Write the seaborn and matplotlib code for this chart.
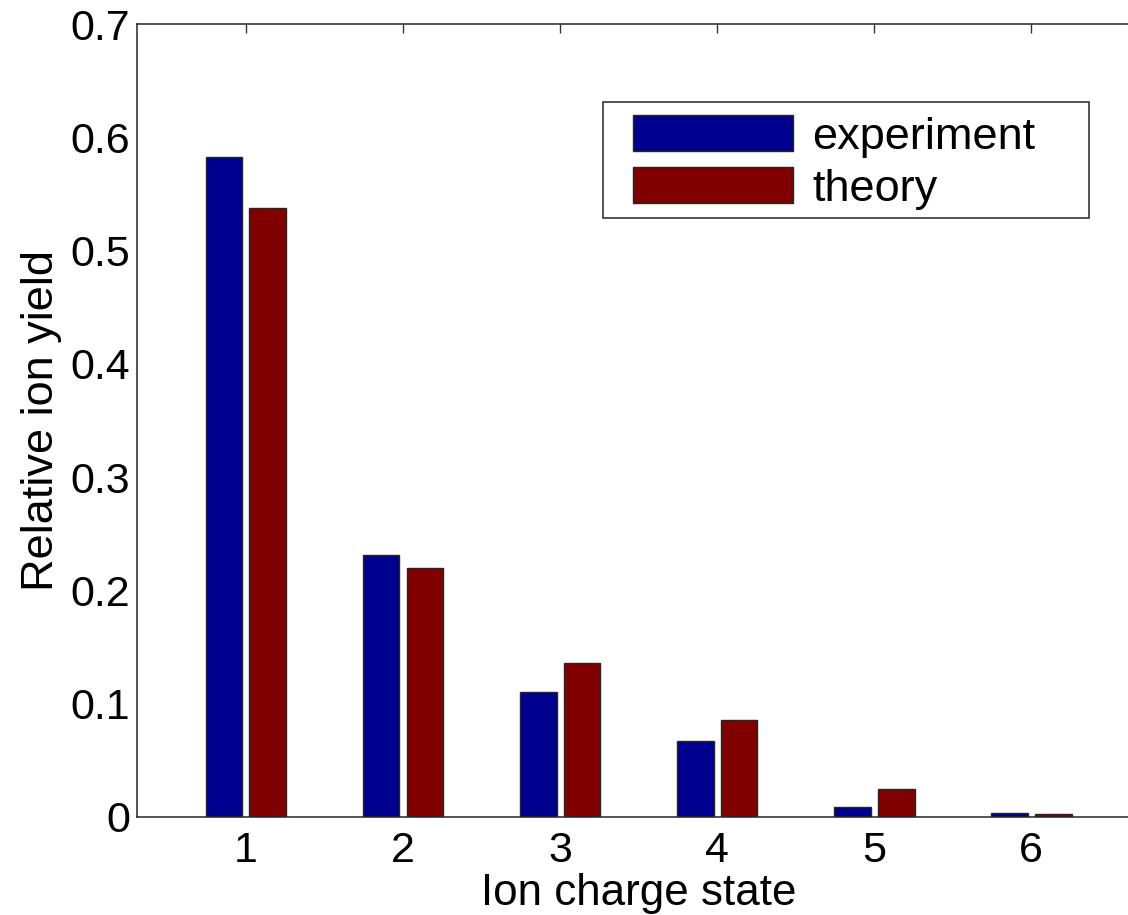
import matplotlib
matplotlib.use("Agg")
import matplotlib.pyplot as plt
import seaborn as sns
import pandas as pd
from matplotlib.patches import Patch, Rectangle

charge_states = ["1", "2", "3", "4", "5", "6"]
experiment = [0.583, 0.2315, 0.110, 0.0674, 0.0088, 0.0038]
theory = [0.538, 0.2198, 0.136, 0.0859, 0.0244, 0.0024]
series_names = ["experiment", "theory"]
colors = ["#00008F", "#800000"]

df = pd.DataFrame({
    "state": charge_states * 2,
    "value": experiment + theory,
    "series": [series_names[0]] * 6 + [series_names[1]] * 6,
})

sns.set_style("white")
plt.rcParams["font.family"] = ["Liberation Sans", "DejaVu Sans"]
plt.rcParams["text.color"] = "black"

W, H = 1128, 915
fig = plt.figure(figsize=(W / 100, H / 100), dpi=100)
ax = fig.add_axes([137 / W, (H - 817) / H, 1004 / W, 793 / H])

sns.barplot(data=df, x="state", y="value", hue="series", palette=colors,
            saturation=1, width=0.56, gap=0.16, edgecolor="#262626",
            linewidth=1.0, ax=ax, legend=False)

ax.set_xlim(-0.694, 5.70)
ax.set_ylim(0, 0.7)
ax.set_yticks([0, 0.1, 0.2, 0.3, 0.4, 0.5, 0.6, 0.7])
ax.set_yticklabels(["0", "0.1", "0.2", "0.3", "0.4", "0.5", "0.6", "0.7"])

for s in ax.spines.values():
    s.set_color("#262626")
    s.set_linewidth(1.1)
    s.set_visible(True)

ax.tick_params(axis="both", direction="in", length=6.5, width=1.0,
               color="#333333", labelsize=31, top=True, right=True,
               labelcolor="black")
ax.tick_params(axis="x", pad=10)
ax.tick_params(axis="y", pad=5)

ax.set_xlabel("Ion charge state", fontsize=31.7, color="black")
ax.set_ylabel("Relative ion yield", fontsize=32.5, color="black")
ax.xaxis.set_label_coords(0.5, -0.071)
ax.yaxis.set_label_coords(-0.075, 0.5)


def ax_x(px):
    return (px - 137) / 1004


def ax_y(py):
    return (817 - py) / 793


# legend frame
ax.add_patch(Rectangle((ax_x(602.7), ax_y(218)), ax_x(1089) - ax_x(602.7),
                       ax_y(101.7) - ax_y(218), transform=ax.transAxes,
                       facecolor="white", edgecolor="#262626", linewidth=1.1,
                       zorder=5, clip_on=False))

handles = [Patch(facecolor=colors[0], edgecolor="#262626", linewidth=1.0),
           Patch(facecolor=colors[1], edgecolor="#262626", linewidth=1.0)]
leg = ax.legend(handles, series_names, loc="upper left",
                bbox_to_anchor=(ax_x(633), ax_y(115)),
                fontsize=32.5, frameon=False, labelcolor="black",
                handlelength=3.55, handleheight=0.86, handletextpad=0.42,
                labelspacing=0.2, borderpad=0, borderaxespad=0)
leg.set_zorder(6)

fig.savefig("out.png", dpi=100)
